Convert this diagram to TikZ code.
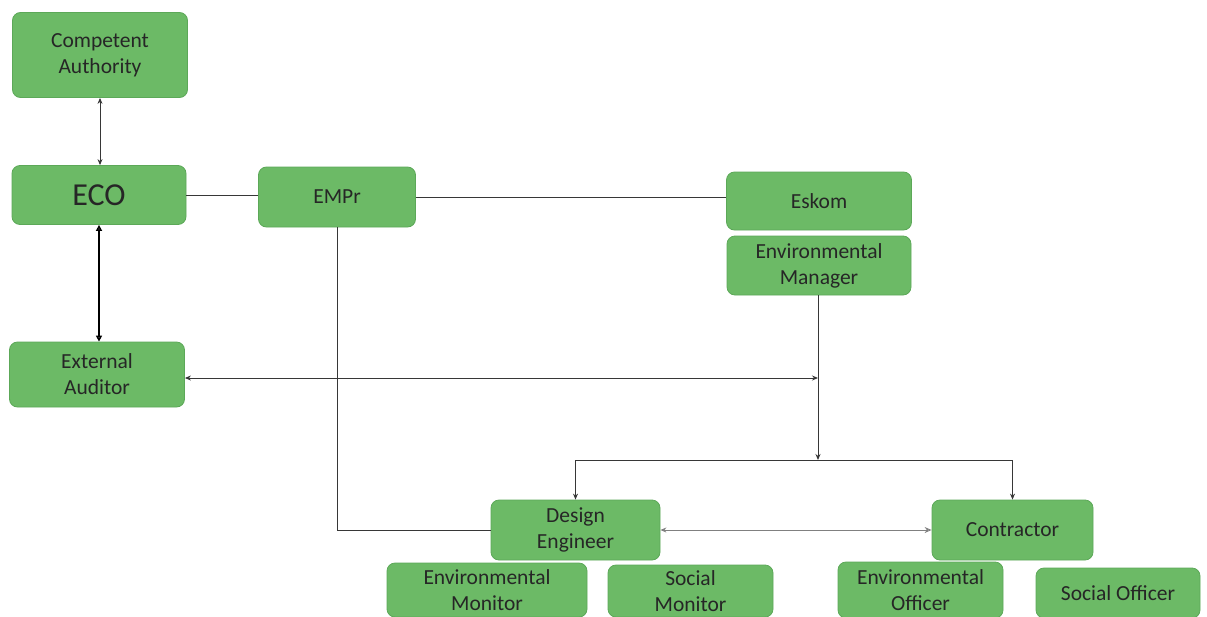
\documentclass[tikz,border=0pt]{standalone}
\usepackage{fontspec}
\setmainfont{Carlito}
\usepackage{tikz}
\usetikzlibrary{arrows.meta}
\definecolor{boxgreen}{RGB}{108,186,102}
\definecolor{boxedge}{RGB}{92,168,88}
\definecolor{wire}{RGB}{55,55,55}

\begin{document}
\begin{tikzpicture}[x=1pt, y=-1pt, >={Stealth[length=6pt, width=5pt]},
      every node/.append style={font=\fontsize{21.5}{26}\selectfont, text=black!85},
      link/.style={draw=wire, line width=0.9pt}]
    \tikzstyle{box} = [draw=boxedge, fill=boxgreen, rounded corners=8pt, align=center, inner sep=0pt, line width=0.8pt]
    \useasboundingbox (0,0) rectangle (1207,616);
    % left column
    \node[box, minimum width=175pt, minimum height=85pt] (authority) at (100,55) {Competent\\Authority};
    \node[box, minimum width=174pt, minimum height=59pt, font=\fontsize{32}{38}\selectfont] (eco) at (99,195) {ECO};
    \node[box, minimum width=175pt, minimum height=65pt] (auditor) at (97,374.5) {External\\Auditor};
    % top row
    \node[box, minimum width=157pt, minimum height=60pt] (empr) at (337,197) {EMPr};
    \node[box, minimum width=185pt, minimum height=58pt] (eskom) at (819,201) {Eskom};
    \node[box, minimum width=184pt, minimum height=59pt] (manager) at (819,265.5) {Environmental\\Manager};
    % bottom rows
    \node[box, minimum width=169pt, minimum height=60pt] (designer) at (575.5,530) {Design\\Engineer};
    \node[box, minimum width=161pt, minimum height=60pt] (contractor) at (1012.5,530) {Contractor};
    \node[box, minimum width=200pt, minimum height=54pt] (envmonitor) at (487,590) {Environmental\\Monitor};
    \node[box, minimum width=165pt, minimum height=52pt] (socmonitor) at (690.5,591) {Social\\Monitor};
    \node[box, minimum width=165pt, minimum height=56pt] (envofficer) at (920.5,590) {Environmental\\Officer};
    \node[box, minimum width=164pt, minimum height=50pt] (socofficer) at (1118,593) {Social Officer};

    \coordinate (split) at (818,378);
    \coordinate (hub) at (818,460);

    \draw[link, <->] (authority.south) -- (authority.south |- eco.north);
    \draw[link, line width=1.6pt, black, {Triangle[open, length=6pt, width=6pt]}-{Triangle[open, length=6pt, width=6pt]}] (eco.south) -- (eco.south |- auditor.north);
    \draw[link] (eco.east) -- (eco.east -| empr.west);
    \draw[link] (empr.east) -- (empr.east -| eskom.west);
    \draw[link, ->] (manager.south -| hub) -- (hub);
    \draw[link, <->] (auditor.east |- split) -- (split);
    \draw[link, ->] (hub) -| (designer.north);
    \draw[link, ->] (hub) -| (contractor.north);
    \draw[link] (empr.south) |- (designer.west);
    \draw[link, draw=gray, {Stealth[length=6pt, width=5pt]}-{Stealth[open, length=7pt, width=6pt]}] (designer.east) -- (contractor.west);
\end{tikzpicture}
\end{document}
